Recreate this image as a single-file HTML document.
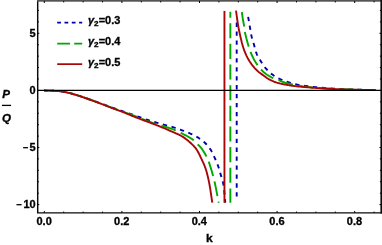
<!DOCTYPE html>
<html><head><meta charset="utf-8"><title>P/Q vs k</title>
<style>html,body{margin:0;padding:0;background:#fff;overflow:hidden}svg{display:block}</style>
</head><body>
<svg width="382" height="245" viewBox="0 0 382 245">
<rect width="382" height="245" fill="#fff"/>
<g fill="none" stroke-linejoin="round" stroke-width="1.90">
<path d="M44.30,90.55 L44.94,90.57 L45.58,90.58 L46.21,90.59 L46.84,90.60 L47.47,90.61 L48.11,90.62 L48.74,90.64 L49.38,90.65 L50.02,90.67 L50.68,90.69 L51.33,90.72 L52.00,90.75 L52.74,90.79 L53.48,90.82 L54.23,90.85 L54.99,90.89 L55.75,90.93 L56.51,90.97 L57.29,91.02 L58.07,91.08 L58.86,91.15 L59.66,91.24 L60.48,91.34 L61.30,91.45 L62.29,91.61 L63.31,91.78 L64.35,91.98 L65.40,92.19 L66.47,92.42 L67.54,92.66 L68.63,92.92 L69.71,93.18 L70.79,93.45 L71.87,93.73 L72.94,94.01 L74.00,94.30 L75.06,94.60 L76.13,94.91 L77.19,95.23 L78.25,95.56 L79.31,95.90 L80.37,96.25 L81.42,96.60 L82.48,96.96 L83.54,97.32 L84.59,97.68 L85.65,98.04 L86.70,98.40 L87.75,98.76 L88.81,99.13 L89.86,99.50 L90.91,99.87 L91.96,100.24 L93.00,100.62 L94.05,101.00 L95.10,101.38 L96.15,101.76 L97.20,102.14 L98.25,102.52 L99.30,102.90 L100.36,103.28 L101.41,103.66 L102.47,104.05 L103.53,104.43 L104.59,104.82 L105.65,105.21 L106.71,105.59 L107.77,105.98 L108.83,106.36 L109.88,106.74 L110.94,107.12 L112.00,107.50 L113.05,107.87 L114.10,108.24 L115.15,108.61 L116.21,108.98 L117.26,109.35 L118.31,109.71 L119.36,110.08 L120.41,110.44 L121.46,110.81 L122.51,111.17 L123.55,111.54 L124.60,111.90 L125.64,112.26 L126.67,112.62 L127.70,112.98 L128.73,113.33 L129.76,113.69 L130.79,114.05 L131.82,114.40 L132.85,114.76 L133.88,115.12 L134.92,115.48 L135.96,115.84 L137.00,116.20 L138.07,116.57 L139.15,116.95 L140.23,117.34 L141.31,117.72 L142.40,118.11 L143.48,118.50 L144.57,118.88 L145.66,119.26 L146.75,119.63 L147.83,120.00 L148.92,120.35 L150.00,120.70 L151.06,121.03 L152.13,121.35 L153.20,121.66 L154.27,121.97 L155.34,122.27 L156.41,122.57 L157.47,122.86 L158.54,123.15 L159.59,123.44 L160.64,123.73 L161.67,124.01 L162.70,124.30 L163.65,124.57 L164.60,124.83 L165.54,125.09 L166.48,125.34 L167.41,125.60 L168.34,125.85 L169.26,126.11 L170.17,126.36 L171.07,126.62 L171.96,126.88 L172.84,127.14 L173.70,127.40 L174.45,127.64 L175.19,127.87 L175.92,128.11 L176.64,128.34 L177.35,128.58 L178.05,128.82 L178.75,129.06 L179.44,129.30 L180.13,129.54 L180.82,129.79 L181.51,130.04 L182.20,130.30 L182.87,130.55 L183.54,130.80 L184.20,131.05 L184.86,131.31 L185.52,131.56 L186.17,131.82 L186.83,132.09 L187.48,132.35 L188.13,132.63 L188.79,132.91 L189.44,133.20 L190.10,133.50 L190.79,133.82 L191.50,134.15 L192.20,134.48 L192.91,134.82 L193.62,135.16 L194.33,135.52 L195.03,135.88 L195.73,136.24 L196.42,136.62 L197.09,137.00 L197.75,137.40 L198.40,137.80 L199.00,138.19 L199.60,138.59 L200.19,138.99 L200.77,139.40 L201.34,139.82 L201.90,140.25 L202.46,140.69 L203.01,141.13 L203.54,141.58 L204.07,142.04 L204.59,142.52 L205.10,143.00 L205.60,143.49 L206.09,144.00 L206.58,144.52 L207.06,145.05 L207.53,145.58 L207.99,146.13 L208.44,146.68 L208.88,147.24 L209.30,147.80 L209.72,148.36 L210.12,148.93 L210.50,149.50 L210.85,150.04 L211.18,150.58 L211.49,151.12 L211.78,151.67 L212.07,152.22 L212.35,152.77 L212.62,153.33 L212.89,153.90 L213.16,154.48 L213.43,155.08 L213.71,155.68 L214.00,156.30 L214.35,157.06 L214.71,157.85 L215.08,158.66 L215.45,159.50 L215.82,160.34 L216.18,161.20 L216.54,162.06 L216.90,162.92 L217.24,163.78 L217.58,164.63 L217.90,165.47 L218.20,166.30 L218.47,167.05 L218.72,167.80 L218.96,168.55 L219.19,169.30 L219.42,170.04 L219.64,170.78 L219.85,171.52 L220.06,172.26 L220.27,172.99 L220.48,173.73 L220.69,174.46 L220.90,175.20 L221.11,175.91 L221.32,176.60 L221.54,177.28 L221.75,177.94 L221.96,178.61 L222.17,179.29 L222.37,179.97 L222.57,180.68 L222.76,181.40 L222.95,182.16 L223.13,182.96 L223.30,183.80 L223.53,185.11 L223.74,186.51 L223.93,187.99 L224.10,189.54 L224.26,191.14 L224.41,192.78 L224.56,194.44 L224.70,196.12 L224.84,197.80 L224.99,199.46 L225.14,201.10 L225.30,202.70" stroke="#0000a8" stroke-dasharray="4.3 4.63" stroke-dashoffset="1.09"/>
<path d="M236.70,22.60 L236.70,197.50" stroke="#0000a8" stroke-dasharray="4.3 4.63" stroke-dashoffset="0.00"/>
<path d="M248.13,16.81 L248.25,17.51 L248.38,18.20 L248.50,18.90 L248.63,19.62 L248.75,20.34 L248.88,21.06 L249.00,21.78 L249.12,22.51 L249.25,23.23 L249.37,23.96 L249.50,24.69 L249.62,25.41 L249.75,26.14 L249.87,26.87 L250.00,27.60 L250.13,28.34 L250.25,29.08 L250.37,29.83 L250.49,30.58 L250.62,31.33 L250.74,32.07 L250.87,32.82 L251.00,33.56 L251.14,34.31 L251.28,35.04 L251.44,35.77 L251.60,36.50 L251.77,37.20 L251.95,37.89 L252.14,38.57 L252.33,39.25 L252.53,39.92 L252.74,40.60 L252.95,41.27 L253.16,41.95 L253.37,42.63 L253.58,43.31 L253.79,44.00 L254.00,44.70 L254.21,45.45 L254.42,46.22 L254.62,47.00 L254.83,47.78 L255.03,48.57 L255.24,49.36 L255.45,50.15 L255.67,50.92 L255.90,51.69 L256.15,52.45 L256.42,53.18 L256.70,53.90 L256.98,54.55 L257.27,55.18 L257.58,55.79 L257.89,56.40 L258.22,57.00 L258.55,57.59 L258.90,58.18 L259.25,58.76 L259.60,59.34 L259.97,59.92 L260.33,60.51 L260.70,61.10 L261.09,61.72 L261.48,62.34 L261.87,62.97 L262.27,63.59 L262.68,64.21 L263.10,64.83 L263.52,65.45 L263.95,66.06 L264.40,66.66 L264.85,67.25 L265.32,67.83 L265.80,68.40 L266.30,68.96 L266.82,69.52 L267.34,70.07 L267.88,70.62 L268.43,71.15 L268.99,71.68 L269.56,72.19 L270.14,72.70 L270.72,73.19 L271.31,73.67 L271.90,74.14 L272.50,74.60 L273.09,75.03 L273.69,75.46 L274.29,75.87 L274.90,76.27 L275.52,76.66 L276.15,77.04 L276.78,77.40 L277.41,77.76 L278.05,78.11 L278.70,78.45 L279.35,78.78 L280.00,79.10 L280.66,79.41 L281.34,79.71 L282.01,79.99 L282.70,80.27 L283.39,80.53 L284.08,80.78 L284.78,81.03 L285.48,81.27 L286.18,81.51 L286.89,81.74 L287.59,81.97 L288.30,82.20 L289.01,82.43 L289.73,82.65 L290.45,82.88 L291.17,83.09 L291.89,83.30 L292.61,83.51 L293.34,83.71 L294.07,83.90 L294.80,84.09 L295.53,84.27 L296.26,84.44 L297.00,84.60 L297.73,84.75 L298.44,84.89 L299.15,85.02 L299.85,85.14 L300.55,85.25 L301.26,85.36 L301.98,85.47 L302.72,85.57 L303.49,85.67 L304.29,85.78 L305.12,85.89 L306.00,86.00 L307.38,86.18 L308.85,86.36 L310.40,86.54 L312.01,86.73 L313.68,86.92 L315.39,87.10 L317.13,87.29 L318.90,87.46 L320.68,87.64 L322.47,87.80 L324.24,87.96 L326.00,88.10 L327.92,88.25 L329.86,88.38 L331.82,88.51 L333.80,88.63 L335.80,88.75 L337.81,88.85 L339.82,88.95 L341.85,89.05 L343.89,89.14 L345.92,89.23 L347.96,89.32 L350.00,89.40 L352.12,89.48 L354.25,89.55 L356.38,89.62 L358.53,89.68 L360.68,89.74 L362.84,89.79 L365.00,89.84 L367.16,89.89 L369.33,89.94 L371.49,89.99 L373.65,90.04 L375.80,90.10" stroke="#0000a8" stroke-dasharray="4.3 4.63" stroke-dashoffset="0.00"/>
<path d="M44.30,90.55 L44.94,90.57 L45.58,90.58 L46.21,90.59 L46.84,90.60 L47.47,90.61 L48.11,90.62 L48.74,90.64 L49.38,90.65 L50.02,90.67 L50.68,90.69 L51.33,90.72 L52.00,90.75 L52.74,90.79 L53.48,90.82 L54.23,90.85 L54.99,90.89 L55.75,90.93 L56.51,90.97 L57.29,91.02 L58.07,91.08 L58.86,91.15 L59.66,91.24 L60.48,91.34 L61.30,91.45 L62.29,91.61 L63.31,91.78 L64.35,91.98 L65.40,92.19 L66.47,92.42 L67.54,92.66 L68.63,92.91 L69.71,93.17 L70.79,93.45 L71.87,93.73 L72.94,94.01 L74.00,94.30 L75.06,94.60 L76.13,94.92 L77.19,95.25 L78.25,95.59 L79.31,95.94 L80.37,96.30 L81.42,96.66 L82.48,97.03 L83.54,97.40 L84.59,97.77 L85.65,98.14 L86.70,98.50 L87.75,98.86 L88.81,99.23 L89.86,99.60 L90.91,99.97 L91.96,100.34 L93.01,100.71 L94.05,101.09 L95.10,101.47 L96.15,101.85 L97.20,102.23 L98.25,102.61 L99.30,103.00 L100.36,103.39 L101.42,103.79 L102.47,104.19 L103.53,104.59 L104.59,104.99 L105.65,105.40 L106.71,105.81 L107.77,106.21 L108.83,106.61 L109.88,107.01 L110.94,107.41 L112.00,107.80 L113.05,108.18 L114.10,108.56 L115.15,108.94 L116.21,109.31 L117.26,109.69 L118.31,110.06 L119.36,110.43 L120.41,110.80 L121.46,111.17 L122.51,111.55 L123.55,111.92 L124.60,112.30 L125.64,112.68 L126.67,113.06 L127.70,113.43 L128.73,113.81 L129.76,114.19 L130.79,114.57 L131.82,114.95 L132.85,115.34 L133.89,115.72 L134.92,116.11 L135.96,116.50 L137.00,116.90 L138.07,117.32 L139.15,117.74 L140.23,118.17 L141.31,118.61 L142.40,119.05 L143.48,119.50 L144.57,119.93 L145.66,120.37 L146.74,120.79 L147.83,121.21 L148.92,121.61 L150.00,122.00 L151.06,122.36 L152.11,122.71 L153.17,123.04 L154.23,123.36 L155.28,123.67 L156.34,123.98 L157.40,124.29 L158.46,124.60 L159.52,124.91 L160.58,125.23 L161.64,125.56 L162.70,125.90 L163.81,126.26 L164.95,126.63 L166.12,127.00 L167.30,127.39 L168.48,127.77 L169.65,128.16 L170.80,128.54 L171.91,128.93 L172.98,129.31 L173.99,129.68 L174.94,130.05 L175.80,130.40 L176.30,130.62 L176.76,130.83 L177.19,131.03 L177.60,131.24 L177.98,131.44 L178.36,131.64 L178.73,131.85 L179.10,132.05 L179.48,132.26 L179.87,132.47 L180.27,132.68 L180.70,132.90 L181.23,133.16 L181.77,133.43 L182.33,133.70 L182.90,133.97 L183.47,134.24 L184.05,134.52 L184.64,134.80 L185.22,135.09 L185.80,135.38 L186.37,135.68 L186.94,135.99 L187.50,136.30 L188.06,136.62 L188.63,136.95 L189.20,137.29 L189.78,137.63 L190.35,137.97 L190.91,138.32 L191.47,138.68 L192.01,139.04 L192.54,139.40 L193.05,139.77 L193.54,140.13 L194.00,140.50 L194.36,140.81 L194.70,141.11 L195.03,141.42 L195.34,141.73 L195.64,142.04 L195.93,142.36 L196.22,142.67 L196.51,142.99 L196.80,143.31 L197.09,143.64 L197.39,143.97 L197.70,144.30 L198.04,144.66 L198.39,145.01 L198.74,145.37 L199.09,145.72 L199.44,146.08 L199.79,146.44 L200.15,146.81 L200.50,147.19 L200.85,147.59 L201.20,148.01 L201.55,148.44 L201.90,148.90 L202.35,149.53 L202.81,150.20 L203.28,150.91 L203.74,151.64 L204.21,152.40 L204.67,153.18 L205.12,153.97 L205.57,154.77 L206.00,155.58 L206.42,156.39 L206.82,157.20 L207.20,158.00 L207.56,158.80 L207.90,159.60 L208.23,160.40 L208.54,161.20 L208.84,162.01 L209.13,162.83 L209.41,163.66 L209.69,164.50 L209.96,165.35 L210.24,166.22 L210.52,167.10 L210.80,168.00 L211.13,169.07 L211.46,170.16 L211.79,171.26 L212.11,172.38 L212.43,173.51 L212.75,174.66 L213.06,175.84 L213.38,177.03 L213.69,178.24 L213.99,179.47 L214.30,180.72 L214.60,182.00 L214.96,183.58 L215.31,185.21 L215.66,186.88 L216.01,188.59 L216.35,190.33 L216.68,192.09 L217.02,193.86 L217.35,195.65 L217.69,197.43 L218.02,199.20 L218.36,200.96 L218.70,202.70" stroke="#00a800" stroke-dasharray="15.1 5.55" stroke-dashoffset="0.94"/>
<path d="M230.35,11.80 L230.35,202.70" stroke="#00a800" stroke-dasharray="15.1 5.55" stroke-dashoffset="9.25"/>
<path d="M241.83,12.19 L241.95,12.99 L242.06,13.80 L242.18,14.61 L242.30,15.41 L242.41,16.21 L242.53,17.00 L242.65,17.78 L242.76,18.54 L242.88,19.28 L243.00,20.00 L243.10,20.58 L243.20,21.14 L243.31,21.70 L243.41,22.24 L243.52,22.78 L243.63,23.30 L243.73,23.82 L243.83,24.34 L243.93,24.86 L244.03,25.37 L244.12,25.88 L244.20,26.40 L244.27,26.88 L244.33,27.34 L244.39,27.81 L244.43,28.26 L244.48,28.72 L244.53,29.17 L244.57,29.63 L244.62,30.09 L244.68,30.56 L244.74,31.03 L244.82,31.51 L244.90,32.00 L245.01,32.59 L245.14,33.19 L245.27,33.81 L245.41,34.43 L245.56,35.07 L245.72,35.70 L245.88,36.34 L246.04,36.98 L246.21,37.62 L246.37,38.26 L246.54,38.88 L246.70,39.50 L246.86,40.09 L247.02,40.69 L247.18,41.28 L247.34,41.87 L247.50,42.46 L247.67,43.05 L247.84,43.64 L248.01,44.22 L248.18,44.79 L248.35,45.37 L248.52,45.94 L248.70,46.50 L248.87,47.02 L249.03,47.54 L249.19,48.05 L249.35,48.56 L249.52,49.06 L249.69,49.56 L249.86,50.07 L250.03,50.57 L250.21,51.07 L250.40,51.57 L250.60,52.08 L250.80,52.60 L251.03,53.17 L251.27,53.74 L251.52,54.32 L251.77,54.91 L252.03,55.50 L252.30,56.08 L252.57,56.67 L252.85,57.25 L253.13,57.83 L253.41,58.39 L253.71,58.95 L254.00,59.50 L254.29,60.01 L254.58,60.52 L254.87,61.02 L255.18,61.52 L255.48,62.02 L255.79,62.50 L256.11,62.99 L256.42,63.46 L256.74,63.93 L257.06,64.40 L257.38,64.85 L257.70,65.30 L257.99,65.70 L258.28,66.10 L258.57,66.49 L258.85,66.87 L259.14,67.25 L259.43,67.63 L259.73,68.00 L260.03,68.36 L260.33,68.73 L260.65,69.09 L260.97,69.44 L261.30,69.80 L261.65,70.17 L262.01,70.54 L262.38,70.90 L262.75,71.26 L263.13,71.62 L263.52,71.98 L263.91,72.33 L264.31,72.67 L264.72,73.01 L265.14,73.35 L265.56,73.68 L266.00,74.00 L266.49,74.35 L267.00,74.70 L267.53,75.04 L268.07,75.38 L268.62,75.71 L269.17,76.04 L269.73,76.36 L270.29,76.67 L270.85,76.97 L271.41,77.26 L271.96,77.54 L272.50,77.80 L272.98,78.02 L273.45,78.23 L273.92,78.43 L274.39,78.61 L274.86,78.79 L275.33,78.96 L275.80,79.13 L276.27,79.30 L276.74,79.46 L277.22,79.64 L277.71,79.81 L278.20,80.00 L278.74,80.21 L279.29,80.43 L279.84,80.65 L280.40,80.88 L280.96,81.11 L281.53,81.33 L282.10,81.56 L282.67,81.78 L283.25,82.00 L283.83,82.21 L284.41,82.41 L285.00,82.60 L285.62,82.79 L286.23,82.97 L286.85,83.14 L287.46,83.30 L288.09,83.46 L288.72,83.61 L289.35,83.76 L290.00,83.91 L290.65,84.05 L291.32,84.20 L292.00,84.35 L292.70,84.50 L293.55,84.68 L294.41,84.87 L295.28,85.05 L296.16,85.24 L297.06,85.42 L297.97,85.60 L298.91,85.78 L299.87,85.95 L300.85,86.12 L301.87,86.29 L302.92,86.45 L304.00,86.60 L305.57,86.80 L307.23,87.00 L308.96,87.18 L310.75,87.35 L312.59,87.52 L314.48,87.68 L316.39,87.83 L318.32,87.98 L320.26,88.12 L322.19,88.25 L324.11,88.38 L326.00,88.50 L327.96,88.62 L329.93,88.73 L331.90,88.83 L333.89,88.92 L335.88,89.01 L337.88,89.09 L339.88,89.16 L341.90,89.23 L343.91,89.30 L345.94,89.37 L347.97,89.43 L350.00,89.50 L352.12,89.57 L354.25,89.63 L356.38,89.68 L358.53,89.73 L360.68,89.78 L362.84,89.83 L365.00,89.87 L367.17,89.92 L369.33,89.96 L371.49,90.01 L373.65,90.05 L375.80,90.10" stroke="#00a800" stroke-dasharray="15.1 5.55" stroke-dashoffset="0.59"/>
<path d="M44.30,90.55 L44.94,90.57 L45.58,90.58 L46.21,90.59 L46.84,90.60 L47.47,90.61 L48.11,90.62 L48.74,90.64 L49.38,90.65 L50.02,90.67 L50.68,90.69 L51.33,90.72 L52.00,90.75 L52.74,90.79 L53.48,90.82 L54.23,90.85 L54.99,90.89 L55.75,90.93 L56.51,90.97 L57.29,91.02 L58.07,91.08 L58.86,91.15 L59.66,91.24 L60.48,91.34 L61.30,91.45 L62.29,91.61 L63.31,91.78 L64.35,91.98 L65.40,92.19 L66.47,92.42 L67.54,92.66 L68.63,92.91 L69.71,93.17 L70.79,93.45 L71.87,93.73 L72.94,94.01 L74.00,94.30 L75.06,94.60 L76.13,94.92 L77.19,95.25 L78.25,95.59 L79.31,95.94 L80.37,96.29 L81.43,96.66 L82.48,97.02 L83.54,97.39 L84.59,97.76 L85.65,98.13 L86.70,98.50 L87.75,98.87 L88.81,99.24 L89.86,99.62 L90.91,99.99 L91.96,100.38 L93.01,100.76 L94.06,101.14 L95.10,101.53 L96.15,101.92 L97.20,102.31 L98.25,102.71 L99.30,103.10 L100.36,103.50 L101.42,103.90 L102.48,104.31 L103.53,104.72 L104.59,105.13 L105.65,105.54 L106.71,105.96 L107.77,106.37 L108.83,106.78 L109.88,107.19 L110.94,107.60 L112.00,108.00 L113.06,108.40 L114.13,108.80 L115.22,109.20 L116.31,109.60 L117.40,110.00 L118.48,110.39 L119.55,110.79 L120.61,111.18 L121.65,111.57 L122.67,111.95 L123.65,112.33 L124.60,112.70 L125.33,112.99 L126.04,113.28 L126.71,113.57 L127.37,113.84 L128.01,114.12 L128.65,114.40 L129.29,114.67 L129.93,114.95 L130.59,115.23 L131.26,115.51 L131.97,115.80 L132.70,116.10 L133.65,116.48 L134.64,116.86 L135.65,117.25 L136.69,117.65 L137.75,118.05 L138.82,118.46 L139.90,118.87 L140.99,119.28 L142.08,119.69 L143.16,120.09 L144.24,120.50 L145.30,120.90 L146.36,121.30 L147.41,121.69 L148.47,122.09 L149.52,122.48 L150.58,122.87 L151.64,123.26 L152.70,123.66 L153.75,124.05 L154.81,124.46 L155.87,124.86 L156.94,125.28 L158.00,125.70 L159.10,126.14 L160.21,126.60 L161.33,127.06 L162.45,127.52 L163.57,127.99 L164.69,128.47 L165.80,128.95 L166.91,129.42 L168.00,129.90 L169.09,130.37 L170.15,130.84 L171.20,131.30 L172.13,131.71 L173.06,132.10 L173.98,132.49 L174.89,132.88 L175.80,133.26 L176.69,133.65 L177.58,134.04 L178.45,134.44 L179.31,134.85 L180.16,135.28 L180.99,135.73 L181.80,136.20 L182.56,136.67 L183.30,137.15 L184.03,137.64 L184.75,138.15 L185.46,138.67 L186.16,139.19 L186.84,139.73 L187.52,140.28 L188.18,140.83 L188.83,141.38 L189.47,141.94 L190.10,142.50 L190.68,143.03 L191.25,143.55 L191.82,144.08 L192.37,144.60 L192.91,145.14 L193.45,145.68 L193.97,146.23 L194.48,146.79 L194.98,147.37 L195.46,147.96 L195.94,148.57 L196.40,149.20 L196.88,149.91 L197.35,150.65 L197.80,151.43 L198.23,152.23 L198.65,153.04 L199.06,153.86 L199.46,154.69 L199.85,155.51 L200.22,156.32 L200.59,157.11 L200.95,157.87 L201.30,158.60 L201.58,159.17 L201.85,159.73 L202.11,160.28 L202.36,160.82 L202.61,161.36 L202.85,161.88 L203.09,162.41 L203.32,162.92 L203.55,163.44 L203.77,163.96 L203.99,164.48 L204.20,165.00 L204.40,165.48 L204.59,165.95 L204.77,166.41 L204.95,166.86 L205.12,167.32 L205.29,167.77 L205.46,168.23 L205.63,168.71 L205.79,169.19 L205.96,169.70 L206.13,170.24 L206.30,170.80 L206.55,171.65 L206.79,172.53 L207.04,173.45 L207.29,174.41 L207.54,175.40 L207.78,176.42 L208.02,177.47 L208.27,178.54 L208.51,179.63 L208.74,180.74 L208.97,181.86 L209.20,183.00 L209.48,184.47 L209.75,186.00 L210.02,187.59 L210.28,189.21 L210.54,190.87 L210.79,192.55 L211.04,194.25 L211.29,195.96 L211.54,197.66 L211.79,199.36 L212.04,201.04 L212.30,202.70" stroke="#a80707"/>
<path d="M224.45,10.90 L224.45,202.70" stroke="#a80707"/>
<path d="M236.00,10.60 L236.11,11.39 L236.22,12.18 L236.32,12.97 L236.43,13.77 L236.54,14.57 L236.65,15.36 L236.76,16.15 L236.86,16.94 L236.97,17.72 L237.08,18.49 L237.19,19.25 L237.30,20.00 L237.40,20.66 L237.49,21.31 L237.59,21.94 L237.68,22.57 L237.77,23.20 L237.87,23.82 L237.96,24.44 L238.06,25.06 L238.16,25.68 L238.27,26.31 L238.38,26.95 L238.50,27.60 L238.64,28.32 L238.78,29.05 L238.93,29.78 L239.08,30.53 L239.24,31.27 L239.40,32.02 L239.56,32.77 L239.73,33.53 L239.89,34.28 L240.06,35.02 L240.23,35.76 L240.40,36.50 L240.56,37.22 L240.73,37.94 L240.89,38.65 L241.06,39.37 L241.23,40.09 L241.40,40.80 L241.57,41.51 L241.74,42.22 L241.93,42.92 L242.11,43.62 L242.30,44.31 L242.50,45.00 L242.69,45.65 L242.89,46.30 L243.08,46.94 L243.28,47.58 L243.49,48.21 L243.70,48.85 L243.91,49.47 L244.13,50.10 L244.36,50.73 L244.60,51.35 L244.84,51.98 L245.10,52.60 L245.37,53.24 L245.65,53.89 L245.94,54.53 L246.24,55.17 L246.54,55.81 L246.86,56.45 L247.18,57.09 L247.50,57.72 L247.84,58.35 L248.19,58.97 L248.54,59.59 L248.90,60.20 L249.27,60.81 L249.66,61.42 L250.05,62.03 L250.46,62.64 L250.87,63.24 L251.29,63.84 L251.71,64.43 L252.14,65.01 L252.58,65.58 L253.02,66.13 L253.46,66.67 L253.90,67.20 L254.31,67.67 L254.72,68.13 L255.14,68.58 L255.56,69.02 L255.99,69.45 L256.42,69.87 L256.85,70.28 L257.29,70.69 L257.72,71.08 L258.15,71.46 L258.58,71.84 L259.00,72.20 L259.37,72.50 L259.73,72.79 L260.09,73.07 L260.45,73.34 L260.81,73.60 L261.18,73.86 L261.54,74.11 L261.90,74.36 L262.27,74.61 L262.64,74.87 L263.02,75.13 L263.40,75.40 L263.82,75.70 L264.24,76.01 L264.67,76.33 L265.10,76.65 L265.53,76.97 L265.97,77.29 L266.41,77.61 L266.86,77.92 L267.31,78.23 L267.77,78.53 L268.23,78.82 L268.70,79.10 L269.20,79.38 L269.70,79.65 L270.21,79.92 L270.73,80.18 L271.26,80.43 L271.79,80.68 L272.32,80.92 L272.86,81.15 L273.39,81.37 L273.93,81.59 L274.47,81.80 L275.00,82.00 L275.52,82.19 L276.04,82.36 L276.56,82.53 L277.08,82.70 L277.61,82.85 L278.13,83.00 L278.66,83.14 L279.19,83.28 L279.72,83.42 L280.24,83.55 L280.77,83.67 L281.30,83.80 L281.82,83.92 L282.35,84.04 L282.87,84.15 L283.39,84.25 L283.92,84.35 L284.44,84.45 L284.97,84.54 L285.49,84.64 L286.02,84.73 L286.55,84.82 L287.07,84.91 L287.60,85.00 L288.13,85.09 L288.65,85.18 L289.16,85.27 L289.67,85.36 L290.19,85.44 L290.71,85.52 L291.23,85.61 L291.76,85.69 L292.30,85.77 L292.85,85.85 L293.42,85.92 L294.00,86.00 L294.74,86.09 L295.49,86.18 L296.25,86.27 L297.02,86.35 L297.81,86.43 L298.62,86.51 L299.44,86.59 L300.29,86.67 L301.17,86.75 L302.08,86.83 L303.02,86.92 L304.00,87.00 L305.53,87.13 L307.16,87.27 L308.87,87.40 L310.66,87.55 L312.51,87.69 L314.40,87.83 L316.33,87.97 L318.28,88.11 L320.23,88.24 L322.18,88.37 L324.11,88.49 L326.00,88.60 L327.96,88.71 L329.93,88.81 L331.90,88.91 L333.89,89.00 L335.88,89.09 L337.88,89.17 L339.88,89.25 L341.90,89.33 L343.91,89.40 L345.94,89.47 L347.97,89.54 L350.00,89.60 L352.12,89.66 L354.25,89.71 L356.38,89.76 L358.53,89.81 L360.68,89.85 L362.84,89.88 L365.00,89.92 L367.17,89.95 L369.33,89.99 L371.49,90.02 L373.65,90.06 L375.80,90.10" stroke="#a80707"/>
</g>
<g stroke="#000" fill="none">
<line x1="37.70" y1="90.42" x2="381.05" y2="90.42" stroke-width="1.15"/>
<path d="M37.70,0 V212.85 H382" stroke-width="1.45" stroke="#0a0a0a"/>
<rect x="37.00" y="0" width="345.00" height="1.7" fill="#555" stroke="none"/>
<path d="M381.2,0 V213.52" stroke-width="1.6" stroke="#0a0a0a"/>
<path d="M44.30,212.85 v-1.90 M44.30,1.00 v2.00 M63.70,212.85 v-1.30 M63.70,1.00 v1.40 M83.10,212.85 v-1.30 M83.10,1.00 v1.40 M102.50,212.85 v-1.30 M102.50,1.00 v1.40 M121.90,212.85 v-1.90 M121.90,1.00 v2.00 M141.30,212.85 v-1.30 M141.30,1.00 v1.40 M160.70,212.85 v-1.30 M160.70,1.00 v1.40 M180.10,212.85 v-1.30 M180.10,1.00 v1.40 M199.50,212.85 v-1.90 M199.50,1.00 v2.00 M218.90,212.85 v-1.30 M218.90,1.00 v1.40 M238.30,212.85 v-1.30 M238.30,1.00 v1.40 M257.70,212.85 v-1.30 M257.70,1.00 v1.40 M277.10,212.85 v-1.90 M277.10,1.00 v2.00 M296.50,212.85 v-1.30 M296.50,1.00 v1.40 M315.90,212.85 v-1.30 M315.90,1.00 v1.40 M335.30,212.85 v-1.30 M335.30,1.00 v1.40 M354.70,212.85 v-1.90 M354.70,1.00 v2.00 M374.10,212.85 v-1.30 M374.10,1.00 v1.40 M37.70,204.60 h1.60 M381.05,204.60 h-1.60 M37.70,193.18 h1.15 M381.05,193.18 h-1.15 M37.70,181.76 h1.15 M381.05,181.76 h-1.15 M37.70,170.34 h1.15 M381.05,170.34 h-1.15 M37.70,158.92 h1.15 M381.05,158.92 h-1.15 M37.70,147.50 h1.60 M381.05,147.50 h-1.60 M37.70,136.08 h1.15 M381.05,136.08 h-1.15 M37.70,124.66 h1.15 M381.05,124.66 h-1.15 M37.70,113.24 h1.15 M381.05,113.24 h-1.15 M37.70,101.82 h1.15 M381.05,101.82 h-1.15 M37.70,90.40 h1.60 M381.05,90.40 h-1.60 M37.70,78.98 h1.15 M381.05,78.98 h-1.15 M37.70,67.56 h1.15 M381.05,67.56 h-1.15 M37.70,56.14 h1.15 M381.05,56.14 h-1.15 M37.70,44.72 h1.15 M381.05,44.72 h-1.15 M37.70,33.30 h1.60 M381.05,33.30 h-1.60 M37.70,21.88 h1.15 M381.05,21.88 h-1.15 M37.70,10.46 h1.15 M381.05,10.46 h-1.15" stroke-width="1.0"/>
</g>
<g font-family="'Liberation Sans', sans-serif" font-weight="bold" fill="#000" stroke="#000" stroke-width="0.30" style="filter:grayscale(1)">
<text transform="translate(44.10,224.70) scale(1.100,1)" text-anchor="middle" font-size="10">0.0</text>
<text transform="translate(121.70,224.70) scale(1.100,1)" text-anchor="middle" font-size="10">0.2</text>
<text transform="translate(199.30,224.70) scale(1.100,1)" text-anchor="middle" font-size="10">0.4</text>
<text transform="translate(276.90,224.70) scale(1.100,1)" text-anchor="middle" font-size="10">0.6</text>
<text transform="translate(354.50,224.70) scale(1.100,1)" text-anchor="middle" font-size="10">0.8</text>
<text transform="translate(35.70,36.80) scale(1.100,1)" text-anchor="end" font-size="10">5</text>
<text transform="translate(35.70,93.90) scale(1.100,1)" text-anchor="end" font-size="10">0</text>
<text transform="translate(35.70,151.00) scale(1.100,1)" text-anchor="end" font-size="10">5</text>
<text transform="translate(23.00,151.00) scale(0.940,1)" text-anchor="start" font-size="10">−</text>
<text transform="translate(35.70,208.10) scale(1.100,1)" text-anchor="end" font-size="10">10</text>
<text transform="translate(16.50,208.10) scale(0.940,1)" text-anchor="start" font-size="10">−</text>
<text transform="translate(209.30,241.50) scale(1.100,1)" text-anchor="middle" font-size="11">k</text>
<text transform="translate(6.20,98.30) scale(1.100,1)" text-anchor="middle" font-size="10.5" font-style="italic">P</text>
<text transform="translate(6.60,122.00) scale(1.100,1)" text-anchor="middle" font-size="10.5" font-style="italic">Q</text>
<text transform="translate(88.0,24.40) scale(1.100,1)" font-size="10"><tspan font-style="italic">γ</tspan><tspan font-size="7.4" dy="1.8">2</tspan><tspan dy="-1.8">=0.3</tspan></text>
<text transform="translate(88.0,45.10) scale(1.100,1)" font-size="10"><tspan font-style="italic">γ</tspan><tspan font-size="7.4" dy="1.8">2</tspan><tspan dy="-1.8">=0.4</tspan></text>
<text transform="translate(88.0,65.70) scale(1.100,1)" font-size="10"><tspan font-style="italic">γ</tspan><tspan font-size="7.4" dy="1.8">2</tspan><tspan dy="-1.8">=0.5</tspan></text>
</g>
<line x1="1.9" y1="105.4" x2="11.1" y2="105.4" stroke="#000" stroke-width="1.3"/>
<g fill="none" stroke-width="1.75">
<line x1="57.2" y1="22.65" x2="82.2" y2="22.65" stroke="#0000a8" stroke-dasharray="3.75 3.55"/>
<line x1="57.2" y1="43.55" x2="82.2" y2="43.55" stroke="#00a800" stroke-dasharray="12.8 4.2"/>
<line x1="57.2" y1="64.15" x2="82.2" y2="64.15" stroke="#a80707"/>
</g>
</svg>
</body></html>
